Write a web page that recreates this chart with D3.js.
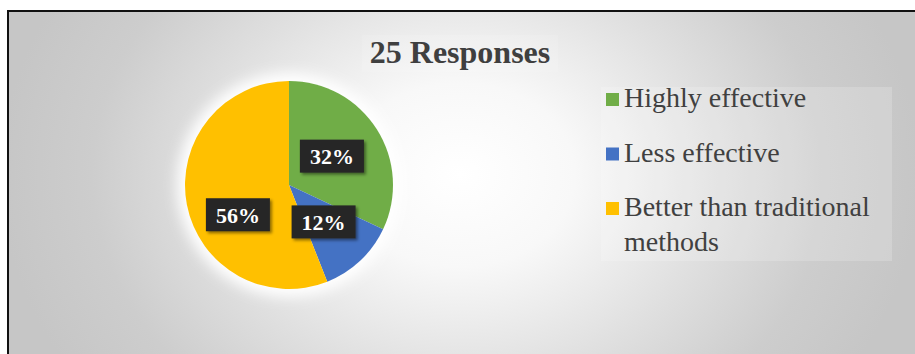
<!DOCTYPE html>
<html>
<head>
<meta charset="utf-8">
<script src="https://cdn.jsdelivr.net/npm/d3@7"></script>
<style>
  html, body { margin: 0; padding: 0; background: #ffffff; }
  svg { display: block; }
  .serif { font-family: "Liberation Serif", "Times New Roman", Tinos, "DejaVu Serif", serif; }
</style>
</head>
<body>
<svg id="chart" width="915" height="354"></svg>
<script>
// Survey results: 25 responses
const titleText = "25 Responses";
const categories = ["Highly effective", "Less effective", "Better than traditional methods"];
const legendLines = [["Highly effective"], ["Less effective"], ["Better than traditional", "methods"]];
const shares = [32, 12, 56];
const colors = ["#70ad47", "#4472c4", "#ffc000"];

const W = 915, H = 354;
const svg = d3.select("#chart");
const defs = svg.append("defs");

// Soft grey radial backdrop
const bg = defs.append("radialGradient")
  .attr("id", "bgGrad")
  .attr("gradientUnits", "userSpaceOnUse")
  .attr("cx", 460).attr("cy", 175).attr("r", 460)
  .attr("gradientTransform", "translate(460,175) scale(1,0.8) translate(-460,-175)");
bg.append("stop").attr("offset", 0).attr("stop-color", "#ffffff");
bg.append("stop").attr("offset", 0.25).attr("stop-color", "#f8f8f8");
bg.append("stop").attr("offset", 0.55).attr("stop-color", "#e0e0e0");
bg.append("stop").attr("offset", 0.8).attr("stop-color", "#cdcdcd");
bg.append("stop").attr("offset", 1).attr("stop-color", "#c6c6c6");

const glow = defs.append("filter").attr("id", "glow")
  .attr("x", "-30%").attr("y", "-30%").attr("width", "160%").attr("height", "160%");
glow.append("feGaussianBlur").attr("stdDeviation", 7);

const shadow = defs.append("filter").attr("id", "boxShadow")
  .attr("x", "-30%").attr("y", "-30%").attr("width", "160%").attr("height", "160%");
shadow.append("feDropShadow").attr("dx", 2).attr("dy", 2)
  .attr("stdDeviation", 1.5).attr("flood-color", "#000").attr("flood-opacity", 0.45);

// Chart area with frame
svg.append("rect")
  .attr("x", 8).attr("y", 11).attr("width", W + 10).attr("height", H + 10)
  .attr("fill", "url(#bgGrad)")
  .attr("stroke", "#111").attr("stroke-width", 2);

// Title
svg.append("rect")
  .attr("x", 362).attr("y", 35).attr("width", 196).attr("height", 37)
  .attr("fill", "#ffffff").attr("opacity", 0.12);
svg.append("text")
  .attr("class", "serif")
  .attr("x", 460).attr("y", 63)
  .attr("text-anchor", "middle")
  .attr("font-weight", "bold")
  .attr("font-size", 32)
  .attr("fill", "#3f3f3f")
  .text(titleText);

// Pie
const cx = 289, cy = 185, r = 104;
const pie = d3.pie().sort(null).value(d => d);
const arcs = pie(shares);
const arc = d3.arc().innerRadius(0).outerRadius(r);

const g = svg.append("g").attr("transform", `translate(${cx},${cy})`);
g.append("circle").attr("r", r + 8).attr("fill", "#ffffff").attr("filter", "url(#glow)");
g.selectAll("path.slice")
  .data(arcs)
  .join("path")
  .attr("class", "slice")
  .attr("d", arc)
  .attr("fill", (d, i) => colors[i]);

// Data labels (dark callout boxes)
const labelNudge = [[-1, -1], [-1, -1], [0, 20]];
const boxW = 64, boxH = 33;
const labels = g.selectAll("g.lbl")
  .data(arcs)
  .join("g")
  .attr("class", "lbl")
  .attr("transform", (d, i) => {
    const [x, y] = arc.centroid(d);
    return `translate(${x + labelNudge[i][0]},${y + labelNudge[i][1]})`;
  });
labels.append("rect")
  .attr("x", -boxW / 2).attr("y", -boxH / 2)
  .attr("width", boxW).attr("height", boxH)
  .attr("fill", "#262626")
  .attr("filter", "url(#boxShadow)");
labels.append("text")
  .attr("class", "serif")
  .attr("text-anchor", "middle")
  .attr("dy", "0.36em")
  .attr("font-weight", "bold")
  .attr("font-size", 22)
  .attr("fill", "#ffffff")
  .text(d => d3.format(".0%")(d.data / 100));

// Legend
svg.append("rect")
  .attr("x", 601).attr("y", 87).attr("width", 291).attr("height", 174)
  .attr("fill", "#ffffff").attr("opacity", 0.18);
const legendY = d3.scaleLinear().domain([0, 1]).range([107, 161.5]);
const legend = svg.selectAll("g.legend")
  .data(categories)
  .join("g")
  .attr("class", "legend")
  .attr("transform", (d, i) => `translate(606,${legendY(i)})`);
legend.append("rect")
  .attr("x", 0).attr("y", -14).attr("width", 13).attr("height", 13)
  .attr("fill", (d, i) => colors[i]);
legend.append("text")
  .attr("class", "serif")
  .attr("x", 18)
  .attr("font-size", 28)
  .attr("fill", "#404040")
  .selectAll("tspan")
  .data((d, i) => legendLines[i])
  .join("tspan")
  .attr("x", 18)
  .attr("dy", (d, j) => j === 0 ? 0 : 35)
  .text(d => d);
</script>
</body>
</html>
